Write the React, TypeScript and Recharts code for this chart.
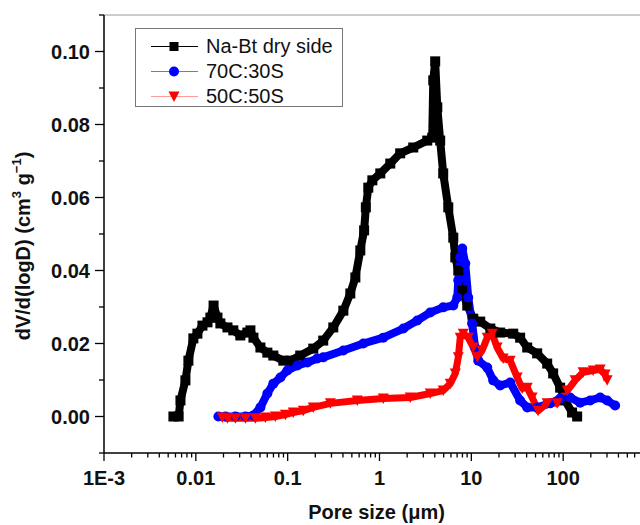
import React from 'react';
import { LineChart, Line, XAxis, YAxis, Legend, ReferenceLine, Label } from 'recharts';

const FONT = '"Liberation Sans", Arial, Helvetica, sans-serif';

// ---- data (pore size in µm, dV/d(logD) in cm3/g) ----
const naBtX = [0.0057, 0.0065, 0.0068, 0.0077, 0.0083, 0.0094, 0.0104, 0.0118, 0.0134, 0.0144, 0.0156, 0.0172, 0.0185, 0.0221, 0.0256, 0.0305, 0.0364, 0.0393, 0.0424, 0.0505, 0.0601, 0.0698, 0.0897, 0.107, 0.137, 0.19, 0.244, 0.314, 0.404, 0.481, 0.546, 0.618, 0.68, 0.71, 0.755, 0.836, 1.02, 1.31, 1.68, 2.33, 3.31, 3.75, 3.85, 4.04, 4.26, 4.58, 4.94, 5.61, 6.36, 6.69, 7.21, 7.96, 9.03, 10.5, 12.5, 16.1, 20.6, 28.6, 34.0, 40.6, 52.1, 67.0, 77.8, 92.7, 105, 125, 142];
const naBtY = [0, 0, 0.0044, 0.0099, 0.0153, 0.0214, 0.0227, 0.0249, 0.0258, 0.0271, 0.0304, 0.0271, 0.0255, 0.0244, 0.0236, 0.0222, 0.023, 0.0236, 0.0216, 0.0189, 0.0175, 0.0167, 0.0153, 0.0153, 0.0167, 0.0186, 0.0208, 0.0244, 0.029, 0.0337, 0.0381, 0.0455, 0.051, 0.0573, 0.0627, 0.0647, 0.0666, 0.0693, 0.0721, 0.0737, 0.0756, 0.0764, 0.0921, 0.0973, 0.0847, 0.0756, 0.0666, 0.0573, 0.049, 0.0436, 0.04, 0.0345, 0.0304, 0.0268, 0.026, 0.0241, 0.023, 0.0227, 0.0216, 0.0189, 0.0173, 0.0145, 0.0118, 0.0079, 0.0044, 0.0011, 0];

const c70X = [0.0176, 0.021, 0.027, 0.0347, 0.0424, 0.0505, 0.0601, 0.0698, 0.0834, 0.0993, 0.128, 0.164, 0.21, 0.244, 0.404, 0.667, 1.1, 1.82, 2.58, 3.57, 4.94, 6.36, 7.03, 7.21, 7.57, 7.96, 8.59, 9.25, 10.2, 11.0, 11.9, 14.9, 17.3, 20.6, 26.5, 34.0, 40.6, 52.1, 72.1, 92.7, 119, 153, 197, 253, 301, 368];
const c70Y = [0, 0, 0, 0, 0.0003, 0.0025, 0.0063, 0.009, 0.0107, 0.0126, 0.014, 0.0148, 0.0159, 0.0162, 0.0181, 0.02, 0.0216, 0.0241, 0.0263, 0.0285, 0.0299, 0.0304, 0.0326, 0.0373, 0.0436, 0.046, 0.0419, 0.0326, 0.0255, 0.0189, 0.0153, 0.0134, 0.0099, 0.0085, 0.0093, 0.0044, 0.0025, 0.0025, 0.0036, 0.0049, 0.0052, 0.0038, 0.0044, 0.0052, 0.0044, 0.003];

const c50X = [0.0194, 0.0221, 0.027, 0.0347, 0.0445, 0.0572, 0.0734, 0.0944, 0.115, 0.148, 0.19, 0.292, 0.573, 1.1, 2.16, 3.57, 4.94, 5.89, 6.69, 7.21, 7.57, 8.17, 9.25, 10.5, 11.6, 13.1, 14.9, 16.9, 19.1, 22.2, 26.5, 31.6, 35.8, 40.6, 45.9, 53.4, 67.0, 86.1, 111, 135, 165, 212, 253, 286, 301];
const c50Y = [-0.0003, -0.0005, -0.0005, -0.0005, -0.0005, -0.0003, 0, 0.0005, 0.0011, 0.0016, 0.0025, 0.0036, 0.0044, 0.0049, 0.0052, 0.0063, 0.0071, 0.009, 0.0118, 0.0162, 0.0216, 0.0227, 0.0216, 0.0189, 0.0162, 0.0181, 0.0216, 0.0227, 0.0189, 0.0159, 0.0153, 0.0107, 0.0077, 0.0079, 0.0052, 0.0016, 0.0036, 0.0036, 0.0071, 0.0099, 0.0121, 0.0126, 0.0129, 0.0115, 0.0099];

const seriesNames = ['Na-Bt dry side', '70C:30S', '50C:50S'];

// ---- ticks ----
const xMajorTicks = [0.001, 0.01, 0.1, 1, 10, 100, 1000];
const xTickLabels = ['1E-3', '0.01', '0.1', '1', '10', '100', ''];
const xMinorFactors = [2, 3, 4, 5, 6, 7, 8, 9];
const xMinorTicks = xMajorTicks.slice(0, -1).flatMap((m) => xMinorFactors.map((f) => m * f));
const xTicks = [...xMajorTicks, ...xMinorTicks].sort((a, b) => a - b);

const yMajorTicks = [0, 0.02, 0.04, 0.06, 0.08, 0.1];
const yTickLabels = ['0.00', '0.02', '0.04', '0.06', '0.08', '0.10'];
const yMinorTicks = [-0.01, 0.01, 0.03, 0.05, 0.07, 0.09, 0.11];
const yTicks = [...yMajorTicks, ...yMinorTicks].sort((a, b) => a - b);

const rows = (xs: number[], ys: number[]) => xs.map((x, i) => ({ x, y: ys[i] }));
const naBtData = rows(naBtX, naBtY);
const c70Data = rows(c70X, c70Y);
const c50Data = rows(c50X, c50Y);

const SquareDot = (p: any) => (
  <rect key={`sq-${p.index}`} x={p.cx - 5} y={p.cy - 5} width={10} height={10} fill="#000" />
);
const CircleDot = (p: any) => (
  <circle key={`ci-${p.index}`} cx={p.cx} cy={p.cy} r={5} fill="#0000ff" />
);
const TriDot = (p: any) => (
  <polygon
    key={`tr-${p.index}`}
    points={`${p.cx - 5.5},${p.cy - 5} ${p.cx + 5.5},${p.cy - 5} ${p.cx},${p.cy + 5.5}`}
    fill="#ff0000"
  />
);

const XTick = (props: any) => {
  const { x, y, payload } = props;
  const idx = xMajorTicks.indexOf(payload.value);
  const major = idx >= 0;
  return (
    <g>
      <line x1={x} x2={x} y1={y} y2={y + (major ? 8 : 4.5)} stroke="#000" strokeWidth={1.3} />
      {major && xTickLabels[idx] !== '' && (
        <text x={x} y={y + 32} textAnchor="middle" fontFamily={FONT} fontWeight="bold" fontSize={20} fill="#111">
          {xTickLabels[idx]}
        </text>
      )}
    </g>
  );
};

const YTick = (props: any) => {
  const { x, y, payload } = props;
  const idx = yMajorTicks.indexOf(payload.value);
  const major = idx >= 0;
  return (
    <g>
      <line x1={x - (major ? 9 : 5)} x2={x} y1={y} y2={y} stroke="#000" strokeWidth={1.3} />
      {major && (
        <text x={x - 14} y={y} dy="0.36em" textAnchor="end" fontFamily={FONT} fontWeight="bold" fontSize={20} fill="#111">
          {yTickLabels[idx]}
        </text>
      )}
    </g>
  );
};

const XTitle = () => (
  <text x={368.5} y={511} textAnchor="middle" fontFamily={FONT} fontWeight="bold" fontSize={20} fill="#111">
    Pore size (μm)
  </text>
);

const YTitle = () => (
  <text
    transform="translate(15,238) rotate(-90)"
    textAnchor="middle"
    dominantBaseline="central"
    fontFamily={FONT}
    fontWeight="bold"
    fontSize={20}
    fill="#111"
  >
    dV/d(logD) (cm
    <tspan dy={-7} fontSize={13}>3</tspan>
    <tspan dy={7}> g</tspan>
    <tspan dy={-7} fontSize={13}>−1</tspan>
    <tspan dy={7}>)</tspan>
  </text>
);

const legendStyles = [
  { line: '#000000', kind: 'square' },
  { line: '#6f6fff', kind: 'circle' },
  { line: '#ff9a9a', kind: 'tri' },
];

const LegendBox = () => (
  <div
    style={{
      border: '1px solid #777',
      background: '#fff',
      width: 208,
      height: 79,
      boxSizing: 'border-box',
      paddingTop: 5,
      fontFamily: FONT,
      fontSize: 20,
      color: '#111',
    }}
  >
    {seriesNames.map((name, i) => {
      const st = legendStyles[i];
      return (
        <div key={name} style={{ display: 'flex', alignItems: 'center', height: 25 }}>
          <svg width={68} height={25} style={{ display: 'block' }}>
            <line x1={15} x2={62} y1={12.5} y2={12.5} stroke={st.line} strokeWidth={1} />
            {st.kind === 'square' && <rect x={33.5} y={8} width={9} height={9} fill="#000" />}
            {st.kind === 'circle' && <circle cx={38} cy={12.5} r={5} fill="#0000ff" />}
            {st.kind === 'tri' && <polygon points="32.5,7.5 43.5,7.5 38,18" fill="#ff0000" />}
          </svg>
          <span style={{ marginLeft: 2, lineHeight: '25px', whiteSpace: 'nowrap' }}>{name}</span>
        </div>
      );
    })}
  </div>
);

export default function App() {
  return (
    <div style={{ position: 'fixed', left: 8, top: 8, width: 632, height: 517, overflow: 'hidden', background: '#fff' }}>
      <LineChart width={660} height={517} margin={{ top: 7, right: 13, bottom: 0, left: 0 }}>
        <XAxis
          dataKey="x"
          type="number"
          scale="log"
          domain={[0.001, 1000]}
          allowDataOverflow
          ticks={xTicks}
          interval={0}
          tick={<XTick />}
          tickLine={false}
          tickSize={0}
          tickMargin={0}
          height={72}
          axisLine={{ stroke: '#000', strokeWidth: 1.5 }}
        >
          <Label content={<XTitle />} />
        </XAxis>
        <YAxis
          dataKey="y"
          type="number"
          domain={[-0.01, 0.11]}
          allowDataOverflow
          ticks={yTicks}
          interval={0}
          tick={<YTick />}
          tickLine={false}
          tickSize={0}
          tickMargin={0}
          width={96}
          axisLine={{ stroke: '#000', strokeWidth: 1.5 }}
        >
          <Label content={<YTitle />} />
        </YAxis>
        <ReferenceLine y={0.11} stroke="#9a9a9a" strokeWidth={1} />
        <Legend
          layout="vertical"
          align="center"
          verticalAlign="middle"
          content={<LegendBox />}
          wrapperStyle={{ position: 'absolute', left: 127, top: 20, width: 'auto', height: 'auto' }}
        />
        <Line
          data={naBtData}
          dataKey="y"
          name={seriesNames[0]}
          type="linear"
          stroke="#000"
          strokeWidth={8}
          strokeLinejoin="round"
          dot={SquareDot}
          activeDot={false}
          isAnimationActive={false}
        />
        <Line
          data={c70Data}
          dataKey="y"
          name={seriesNames[1]}
          type="linear"
          stroke="#0000ff"
          strokeWidth={8}
          strokeLinejoin="round"
          dot={CircleDot}
          activeDot={false}
          isAnimationActive={false}
        />
        <Line
          data={c50Data}
          dataKey="y"
          name={seriesNames[2]}
          type="linear"
          stroke="#ff0000"
          strokeWidth={7}
          strokeLinejoin="round"
          dot={TriDot}
          activeDot={false}
          isAnimationActive={false}
        />
      </LineChart>
    </div>
  );
}
